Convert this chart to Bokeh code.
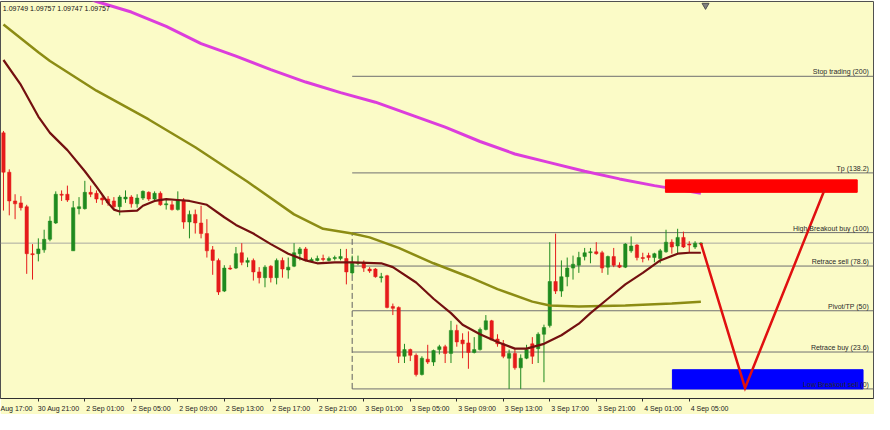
from bokeh.plotting import figure
from bokeh.models import Range1d, FixedTicker, ColumnDataSource
from bokeh.embed import file_html
from bokeh.resources import INLINE
from bokeh.core.properties import value

# ---------------- data (EURUSD, M30) ----------------
open_ = [1.09872, 1.09831, 1.09801, 1.09799, 1.09795, 1.09746, 1.09746, 1.09750, 1.09761, 1.09778,
         1.09808, 1.09808, 1.09749, 1.09793, 1.09793, 1.09810, 1.09809, 1.09804, 1.09803, 1.09801,
         1.09795, 1.09803, 1.09805, 1.09798, 1.09804, 1.09810, 1.09803, 1.09809, 1.09797, 1.09797,
         1.09792, 1.09802, 1.09779, 1.09787, 1.09778, 1.09767, 1.09750, 1.09739, 1.09707, 1.09731,
         1.09731, 1.09747, 1.09737, 1.09739, 1.09727, 1.09721, 1.09733, 1.09721, 1.09739, 1.09729,
         1.09733, 1.09746, 1.09751, 1.09738, 1.09739, 1.09741, 1.09739, 1.09741, 1.09741, 1.09741,
         1.09726, 1.09736, 1.09737, 1.09730, 1.09730, 1.09721, 1.09723, 1.09691, 1.09690, 1.09639,
         1.09646, 1.09640, 1.09620, 1.09636, 1.09633, 1.09646, 1.09649, 1.09642, 1.09666, 1.09656,
         1.09653, 1.09643, 1.09646, 1.09667, 1.09676, 1.09657, 1.09652, 1.09637, 1.09642, 1.09627,
         1.09637, 1.09652, 1.09647, 1.09662, 1.09671, 1.09717, 1.09707, 1.09722, 1.09731, 1.09734,
         1.09743, 1.09747, 1.09748, 1.09747, 1.09732, 1.09743, 1.09734, 1.09732, 1.09749, 1.09755,
         1.09742, 1.09744, 1.09742, 1.09741, 1.09748, 1.09758, 1.09754, 1.09763, 1.09756, 1.09753,
         1.09756]
high = [1.09874, 1.09834, 1.09808, 1.09806, 1.09797, 1.09756, 1.09762, 1.09771, 1.09785, 1.09811,
        1.09812, 1.09817, 1.09801, 1.09805, 1.09822, 1.09817, 1.09812, 1.09807, 1.09806, 1.09805,
        1.09807, 1.09812, 1.09807, 1.09808, 1.09812, 1.09811, 1.09811, 1.09811, 1.09803, 1.09801,
        1.09811, 1.09804, 1.09791, 1.09792, 1.09796, 1.09782, 1.09754, 1.09741, 1.09734, 1.09734,
        1.09753, 1.09757, 1.09742, 1.09741, 1.09732, 1.09734, 1.09734, 1.09741, 1.09742, 1.09742,
        1.09757, 1.09753, 1.09753, 1.09742, 1.09744, 1.09745, 1.09743, 1.09744, 1.09751, 1.09751,
        1.09744, 1.09744, 1.09739, 1.09732, 1.09731, 1.09726, 1.09724, 1.09694, 1.09691, 1.09652,
        1.09647, 1.09642, 1.09639, 1.09651, 1.09646, 1.09651, 1.09651, 1.09676, 1.09672, 1.09663,
        1.09665, 1.09659, 1.09669, 1.09682, 1.09677, 1.09662, 1.09656, 1.09646, 1.09647, 1.09641,
        1.09651, 1.09659, 1.09664, 1.09672, 1.09758, 1.09767, 1.09739, 1.09742, 1.09744, 1.09748,
        1.09752, 1.09752, 1.09758, 1.09749, 1.09744, 1.09752, 1.09737, 1.09757, 1.09764, 1.09756,
        1.09747, 1.09747, 1.09747, 1.09751, 1.09771, 1.09761, 1.09772, 1.09769, 1.09759, 1.09759,
        1.09758]
low = [1.09791, 1.09786, 1.09782, 1.09791, 1.09725, 1.09719, 1.09738, 1.09747, 1.09759, 1.09777,
       1.09801, 1.09800, 1.09749, 1.09787, 1.09792, 1.09805, 1.09799, 1.09797, 1.09796, 1.09792,
       1.09786, 1.09799, 1.09794, 1.09794, 1.09802, 1.09801, 1.09801, 1.09796, 1.09792, 1.09791,
       1.09791, 1.09772, 1.09762, 1.09767, 1.09762, 1.09742, 1.09724, 1.09703, 1.09706, 1.09729,
       1.09730, 1.09734, 1.09732, 1.09718, 1.09715, 1.09711, 1.09716, 1.09714, 1.09721, 1.09720,
       1.09732, 1.09739, 1.09738, 1.09737, 1.09738, 1.09738, 1.09738, 1.09739, 1.09739, 1.09714,
       1.09724, 1.09734, 1.09727, 1.09726, 1.09721, 1.09716, 1.09689, 1.09682, 1.09632, 1.09632,
       1.09634, 1.09618, 1.09619, 1.09631, 1.09629, 1.09641, 1.09632, 1.09632, 1.09649, 1.09637,
       1.09626, 1.09642, 1.09645, 1.09666, 1.09656, 1.09649, 1.09637, 1.09605, 1.09625, 1.09605,
       1.09636, 1.09631, 1.09632, 1.09612, 1.09669, 1.09704, 1.09701, 1.09712, 1.09719, 1.09726,
       1.09739, 1.09736, 1.09745, 1.09726, 1.09724, 1.09732, 1.09731, 1.09731, 1.09747, 1.09739,
       1.09737, 1.09739, 1.09737, 1.09736, 1.09747, 1.09746, 1.09746, 1.09752, 1.09747, 1.09751,
       1.09755]
close = [1.09831, 1.09801, 1.09798, 1.09794, 1.09746, 1.09745, 1.09751, 1.09761, 1.09780, 1.09808,
         1.09807, 1.09802, 1.09794, 1.09795, 1.09810, 1.09808, 1.09803, 1.09802, 1.09799, 1.09795,
         1.09805, 1.09805, 1.09798, 1.09804, 1.09811, 1.09803, 1.09809, 1.09797, 1.09798, 1.09792,
         1.09802, 1.09779, 1.09787, 1.09778, 1.09767, 1.09749, 1.09739, 1.09706, 1.09731, 1.09730,
         1.09746, 1.09737, 1.09739, 1.09727, 1.09721, 1.09732, 1.09721, 1.09739, 1.09730, 1.09732,
         1.09747, 1.09751, 1.09739, 1.09740, 1.09741, 1.09740, 1.09741, 1.09742, 1.09743, 1.09727,
         1.09736, 1.09737, 1.09731, 1.09728, 1.09722, 1.09722, 1.09690, 1.09689, 1.09639, 1.09646,
         1.09640, 1.09620, 1.09637, 1.09633, 1.09645, 1.09649, 1.09642, 1.09666, 1.09654, 1.09652,
         1.09643, 1.09646, 1.09667, 1.09676, 1.09656, 1.09652, 1.09639, 1.09642, 1.09627, 1.09637,
         1.09646, 1.09639, 1.09662, 1.09669, 1.09717, 1.09707, 1.09722, 1.09731, 1.09735, 1.09742,
         1.09747, 1.09748, 1.09746, 1.09731, 1.09743, 1.09734, 1.09732, 1.09756, 1.09754, 1.09742,
         1.09741, 1.09742, 1.09746, 1.09749, 1.09758, 1.09753, 1.09763, 1.09753, 1.09755, 1.09757,
         1.09757]

# time axis (bar index of each time mark -> label as visible on the chart)
tick_idx = [-2, 6, 14, 22, 30, 38, 46, 54, 62, 70, 78, 86, 94, 102, 110, 118]
tick_labels = ["Aug 17:00", "30 Aug 21:00", "2 Sep 01:00", "2 Sep 05:00", "2 Sep 09:00",
               "2 Sep 13:00", "2 Sep 17:00", "2 Sep 21:00", "3 Sep 01:00", "3 Sep 05:00",
               "3 Sep 09:00", "3 Sep 13:00", "3 Sep 17:00", "3 Sep 21:00", "4 Sep 01:00",
               "4 Sep 05:00"]

# moving averages (sampled along bar index)
ma_fast_idx = [0, 3, 6, 8, 11, 14, 16, 18, 19, 20, 23, 24, 26, 28, 30, 32, 35, 38, 40, 43,
               46, 49, 52, 54, 57, 60, 65, 67, 71, 74, 77, 79, 82, 85, 88, 90, 93, 96, 99, 101,
               104, 107, 110, 113, 116, 118, 120]
ma_fast = [1.09948, 1.09922, 1.09889, 1.09872, 1.09854, 1.09832, 1.09816, 1.09799, 1.09792, 1.09790,
           1.09791, 1.09796, 1.09801, 1.09803, 1.09802, 1.09801, 1.09797, 1.09784, 1.09776, 1.09767,
           1.09756, 1.09746, 1.09739, 1.09736, 1.09737, 1.09737, 1.09736, 1.09732, 1.09716, 1.09699,
           1.09684, 1.09672, 1.09662, 1.09654, 1.09647, 1.09647, 1.09652, 1.09661, 1.09673, 1.09684,
           1.09699, 1.09714, 1.09726, 1.09739, 1.09746, 1.09747, 1.09747]
ma_mid_idx = [0, 6, 8, 16, 25, 33, 42, 50, 55, 60, 63, 68, 74, 80, 85, 91, 94, 99, 107, 115, 120]
ma_mid = [1.09985, 1.09956, 1.09947, 1.09916, 1.09886, 1.09857, 1.09821, 1.09787, 1.09772, 1.09767,
          1.09763, 1.09752, 1.09736, 1.09722, 1.09709, 1.09696, 1.09692, 1.09691, 1.09692, 1.09694,
          1.09696]
ma_slow_idx = [10, 16, 22, 28, 34, 40, 46, 52, 58, 64, 70, 76, 82, 88, 94, 100, 106, 112, 118, 120]
ma_slow = [1.10023, 1.10009, 1.09998, 1.09983, 1.09965, 1.09952, 1.09938, 1.09925, 1.09914, 1.09904,
           1.09891, 1.09878, 1.09863, 1.09850, 1.09841, 1.09832, 1.09824, 1.09817, 1.09811, 1.09809]

# Fibonacci levels
fib_anchor = 60
fib_low = 1.09605
fib_high = 1.09768
fib_pcts = [200, 138.2, 100, 78.6, 50, 23.6, 0]
fib_names = ["Stop trading", "Tp", "High Breakout buy", "Retrace sell", "Pivot/TP",
             "Retrace buy", "Low Breakout sell"]

# zones and projection
sell_zone = [113.9, 146.9, 1.09823, 1.09810]   # left, right, top, bottom
buy_zone = [115.1, 147.9, 1.09625, 1.09605]
proj_idx = [120, 127.6, 141.3]
proj_price = [1.09757, 1.09606, 1.09813]
bid = 1.09757
ohlc_text = "1.09749 1.09757 1.09747 1.09757"
shift_idx = 120.8

# ---------------- figure ----------------
BG = "#fbfbc7"
X0, X1 = -0.51, 149.7
Y0, Y1 = 1.09595, 1.10009
FONT = "Liberation Sans"
LABEL_SHIFT = 3.5   # MT4 prints each time label to the right of its mark

p = figure(width=874, height=414, x_range=Range1d(X0, X1), y_range=Range1d(Y0, Y1),
           output_backend="svg", toolbar_location=None, y_axis_location=None,
           background_fill_color=BG, border_fill_color=BG,
           min_border_left=0, min_border_right=1, min_border_top=1, min_border_bottom=0)
p.grid.visible = False
p.outline_line_color = "#505050"

label_pos = [t + LABEL_SHIFT for t in tick_idx]
ax = p.xaxis[0]
ax.ticker = FixedTicker(ticks=label_pos, minor_ticks=tick_idx)
ax.major_label_overrides = {pos: l for pos, l in zip(label_pos, tick_labels)}
ax.major_label_text_font = FONT
ax.major_label_text_font_size = "7px"
ax.major_label_text_color = "#1a1a1a"
ax.major_label_standoff = 3
ax.major_tick_out = 0
ax.major_tick_in = 0
ax.major_tick_line_color = None
ax.minor_tick_out = 3
ax.minor_tick_in = 0
ax.minor_tick_line_color = "#303030"
ax.axis_line_color = "#303030"

# bid line
p.segment(x0=[X0], y0=[bid], x1=[X1], y1=[bid], line_color="#a8a8a0", line_width=1)

# fib levels
fib_prices = [fib_low + pct / 100.0 * (fib_high - fib_low) for pct in fib_pcts]
fib_text = [f"{n} ({pct:g})" for n, pct in zip(fib_names, fib_pcts)]
p.segment(x0=[fib_anchor] * len(fib_prices), y0=fib_prices, x1=[X1] * len(fib_prices), y1=fib_prices,
          line_color="#707070", line_width=1)
p.segment(x0=[fib_anchor], y0=[fib_low], x1=[fib_anchor], y1=[fib_high],
          line_color="#606060", line_width=1, line_dash="6 3")

# candles
idx = list(range(len(open_)))
col = ["#1f8a1f" if c >= o else "#e51b1b" for o, c in zip(open_, close)]
src = ColumnDataSource(dict(x=idx, o=open_, h=high, l=low, c=close,
                            top=[max(o, c) for o, c in zip(open_, close)],
                            bot=[min(o, c) for o, c in zip(open_, close)], col=col))
p.segment(x0="x", y0="l", x1="x", y1="h", line_color="col", line_width=1, source=src)
p.vbar(x="x", width=0.58, top="top", bottom="bot", fill_color="col", line_color="col",
       line_width=0.5, source=src)

# moving averages
p.line(ma_slow_idx, ma_slow, line_color="#dc3ddc", line_width=3)
p.line(ma_mid_idx, ma_mid, line_color="#8c8c14", line_width=2.5)
p.line(ma_fast_idx, ma_fast, line_color="#741010", line_width=2.2)

# zones
p.quad(left=[sell_zone[0]], right=[sell_zone[1]], top=[sell_zone[2]], bottom=[sell_zone[3]],
       fill_color="#ff0000", line_color="#ff0000")
p.quad(left=[buy_zone[0]], right=[buy_zone[1]], top=[buy_zone[2]], bottom=[buy_zone[3]],
       fill_color="#0000ff", line_color="#0000ff")

# projection
p.line(proj_idx, proj_price, line_color="#e01010", line_width=2.5, line_join="miter")

# fib labels
p.text(x=[148.9] * len(fib_prices), y=fib_prices, text=fib_text, text_align="right",
       text_baseline="bottom", y_offset=-1, text_font=value(FONT), text_font_size="7px",
       text_color="#2a2a2a")

# OHLC readout + shift marker
p.text(x=[X0 + 0.4], y=[Y1], text=[ohlc_text], text_align="left", text_baseline="top",
       y_offset=3, text_font=value(FONT), text_font_size="7px", text_color="#111111")
p.scatter(x=[shift_idx], y=[Y1 - 0.00004], marker="inverted_triangle", size=7,
          fill_color="#808080", line_color="#505050")

open("out.html", "w").write(file_html(p, INLINE))
